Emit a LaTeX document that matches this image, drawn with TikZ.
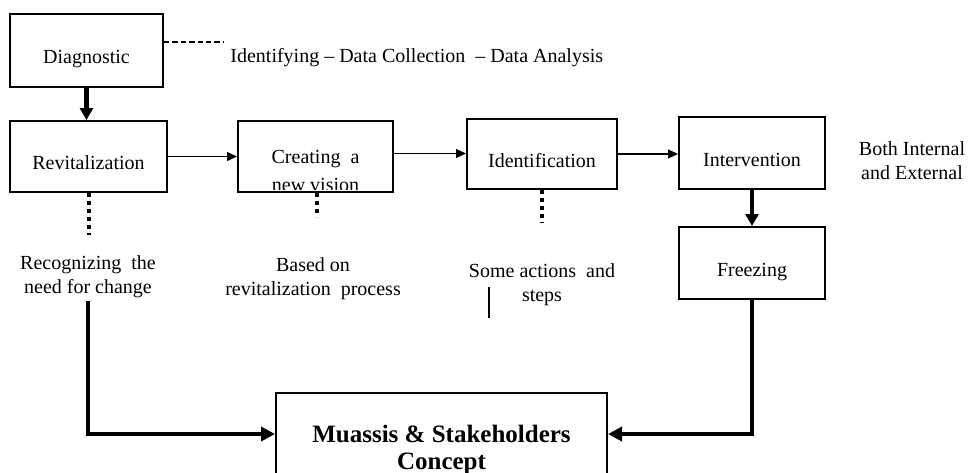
\documentclass[tikz,border=0pt]{standalone}
\usepackage{fontspec}
\setmainfont{Liberation Serif}
\usetikzlibrary{arrows.meta}

\begin{document}
\begin{tikzpicture}[x=0.5pt, y=-0.5pt,
        box/.style={rectangle, draw, line width=1pt, font=\fontsize{10}{12}\selectfont, align=center, text height=15pt, text depth=2pt},
        txt/.style={font=\fontsize{10}{12}\selectfont, align=center, inner sep=1pt},
        thinarr/.style={line width=0.6pt, -{Triangle[length=5pt, width=4.5pt]}},
        thickarr/.style={line width=2.2pt, -{Triangle[length=6pt, width=6.5pt]}},
        dotln/.style={line width=2pt, dash pattern=on 2pt off 2pt},
        ]

      \useasboundingbox (0,0) rectangle (972,472);
      \clip (0,0) rectangle (972,472);

      \node[box, minimum width=76.5pt, minimum height=36.5pt] (diag) at (86.5,50.5) {Diagnostic};
      \node[box, minimum width=78.5pt, minimum height=35.5pt] (revit) at (88.5,156.5) {Revitalization};
      \node[box, minimum width=77.5pt, minimum height=35.5pt] (create) at (315.5,156.5) {};
      \node[box, minimum width=75pt, minimum height=35pt] (ident) at (542,154) {Identification};
      \node[box, minimum width=73pt, minimum height=36pt] (interv) at (752,153) {Intervention};
      \node[box, minimum width=73pt, minimum height=36pt] (freez) at (752,263) {Freezing};

      % text of the second box is cut by its lower border
      \begin{scope}
        \clip ([xshift=0.5pt, yshift=2pt]create.south west) rectangle ([xshift=-0.5pt, yshift=-0.5pt]create.north east);
        \node[txt, font=\fontsize{10}{14}\selectfont] (createtxt) at (315.5,171) {Creating \ a\\new vision};
      \end{scope}

      \node[box, minimum width=165.5pt, minimum height=41pt] (muassis) at (441.5,434) {};
      \node[font=\fontsize{12.5}{13.5}\selectfont\bfseries, align=center] (mtitle) at ([yshift=-8pt]muassis.center) {Muassis \& Stakeholders\\Concept};

      \node[txt, anchor=west] (idtxt) at (228,58) {Identifying -- Data Collection \ -- Data Analysis};
      \node[txt] (recog) at (88,277) {Recognizing \ the\\need for change};
      \node[txt] (based) at (313,279) {Based on\\revitalization \ process};
      \node[txt] (some) at (542,285) {Some actions \ and\\steps};
      \node[txt] (both) at (912,161) {Both Internal\\and External};

      \coordinate (dl) at (223,42);
      \draw[line width=0.7pt, dash pattern=on 2.7pt off 1.5pt] (diag.east |- dl) -- (dl);

      \draw[thickarr] (diag.south) -- (diag.south |- revit.north);

      \draw[thinarr] (revit.east) -- (revit.east -| create.west);
      \draw[thinarr] ([yshift=1.5pt]create.east) -- ([yshift=1.5pt]create.east -| ident.west);
      \draw[thinarr] (ident.east) -- (ident.east -| interv.west);

      \draw[thickarr] (interv.south) -- (freez.north);

      \coordinate (rd) at (88,235);
      \coordinate (cd) at (317,217);
      \coordinate (id) at (543,223);
      \draw[dotln] (revit.south) -- (revit.south |- rd);
      \draw[dotln] (create.south -| cd) -- (cd);
      \draw[dotln] (ident.south) -- (ident.south |- id);

      \coordinate (st1) at (489,287);
      \coordinate (st2) at (489,318);
      \draw[line width=0.6pt] (st1) -- (st2);

      \draw[line width=2.2pt, -{Triangle[length=7pt, width=7pt]}] (recog.south) |- (muassis.west);
      \draw[line width=2.2pt, -{Triangle[length=7pt, width=7pt]}] (freez.south) |- (muassis.east);
    \end{tikzpicture}
\end{document}
